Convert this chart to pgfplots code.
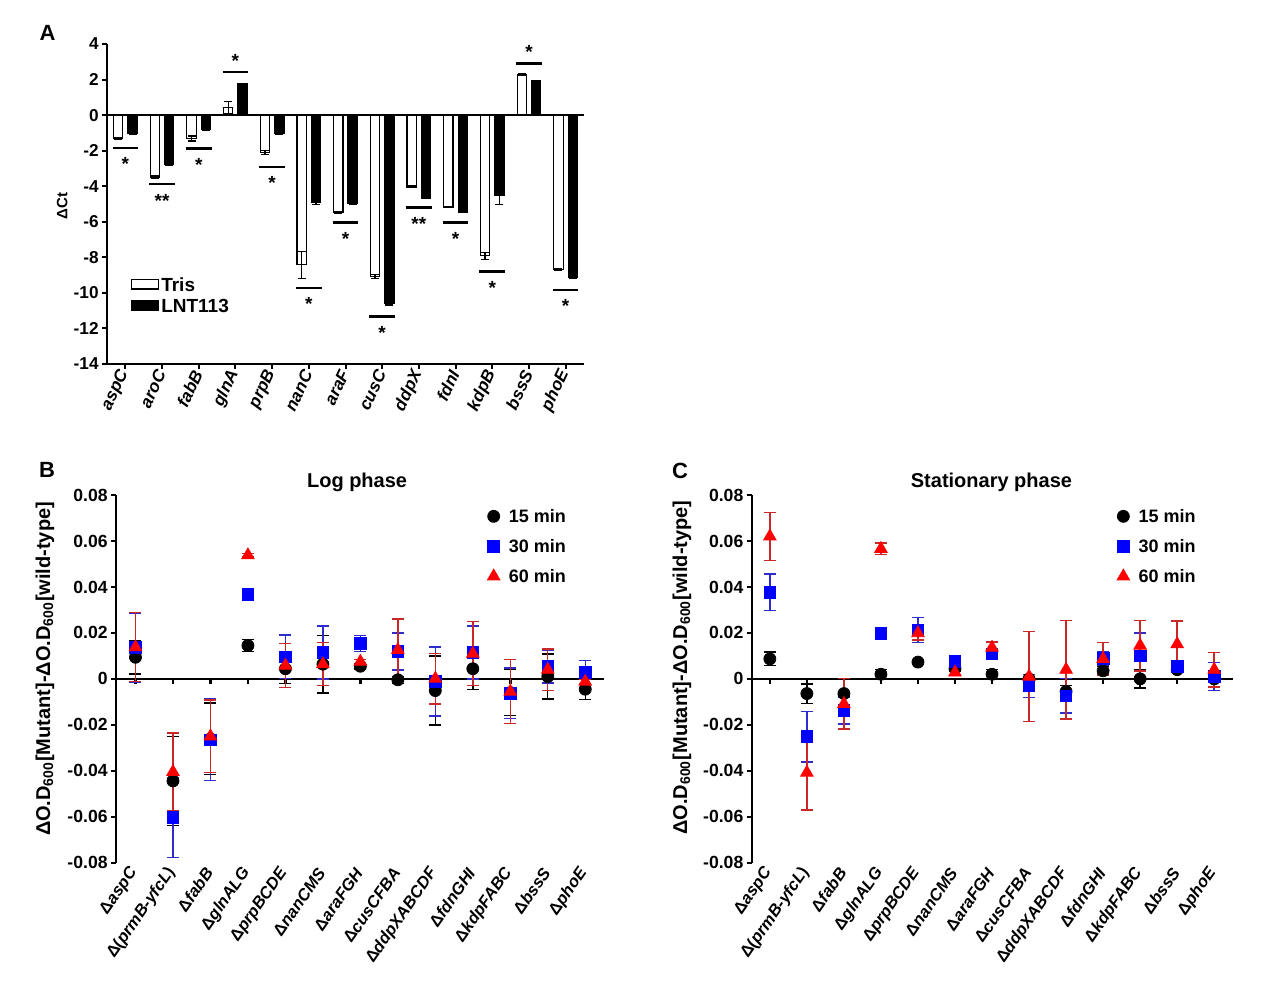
\documentclass[border=0pt]{standalone}
\usepackage{fontspec}
\setmainfont{Liberation Sans}
\usepackage{pgfplots}
\usepackage{pgfplotstable}
\pgfplotsset{compat=1.18}

\definecolor{mkblue}{RGB}{0,0,255}
\definecolor{mkred}{RGB}{255,0,0}
\definecolor{ebblue}{RGB}{45,45,205}
\definecolor{ebred}{RGB}{200,40,40}

% Delta Ct (mean, sd) per gene
\pgfplotstableread{
x tris etris lnt elnt
0  -1.32 0.05  -1.03 0.05
1  -3.48 0.06  -2.80 0.05
2  -1.32 0.14  -0.81 0.05
3   0.43 0.33   1.75 0.05
4  -2.10 0.12  -1.03 0.04
5  -8.42 0.77  -4.92 0.10
6  -5.49 0.05  -4.98 0.05
7  -9.08 0.10 -10.58 0.10
8  -4.04 0.05  -4.66 0.04
9  -5.17 0.04  -5.45 0.04
10 -7.91 0.19  -4.49 0.56
11  2.26 0.05   1.92 0.03
12 -8.67 0.05  -9.12 0.05
}\ctdata

% Log phase: 15, 30, 60 min (mean, sd)
\pgfplotstableread{
x a ea b eb c ec
0   0.0094 0.0072  0.0136 0.0150  0.0138 0.0150
1  -0.0444 0.0194 -0.0603 0.0174 -0.0405 0.0170
2  -0.0261 0.0156 -0.0265 0.0178 -0.0250 0.0158
3   0.0145 0.0025  0.0368 0.0008  0.0538 0.0008
4   0.0044 0.0065  0.0096 0.0095  0.0058 0.0095
5   0.0064 0.0125  0.0115 0.0115  0.0064 0.0094
6   0.0055 0.0012  0.0154 0.0035  0.0075 0.0010
7  -0.0004 0.0015  0.0119 0.0080  0.0126 0.0134
8  -0.0051 0.0150 -0.0012 0.0150  0.0001 0.0110
9   0.0044 0.0090  0.0115 0.0115  0.0110 0.0140
10 -0.0060 0.0100 -0.0062 0.0110 -0.0055 0.0140
11  0.0010 0.0098  0.0054 0.0072  0.0040 0.0090
12 -0.0045 0.0045  0.0029 0.0050 -0.0012 0.0010
}\logdata

% Stationary phase: 15, 30, 60 min (mean, sd)
\pgfplotstableread{
x a ea b eb c ec
0   0.0087 0.0030  0.0377 0.0080  0.0620 0.0104
1  -0.0064 0.0042 -0.0251 0.0110 -0.0408 0.0163
2  -0.0064 0.0010 -0.0138 0.0058 -0.0109 0.0110
3   0.0020 0.0020  0.0199 0.0008  0.0566 0.0025
4   0.0073 0.0010  0.0213 0.0055  0.0199 0.0030
5   0.0044 0.0010  0.0075 0.0010  0.0028 0.0010
6   0.0020 0.0020  0.0109 0.0010  0.0136 0.0024
7   0.0000 0.0020 -0.0030 0.0050  0.0010 0.0195
8  -0.0055 0.0025 -0.0074 0.0075  0.0040 0.0215
9   0.0035 0.0020  0.0090 0.0030  0.0087 0.0070
10  0.0000 0.0040  0.0100 0.0100  0.0145 0.0110
11  0.0040 0.0010  0.0054 0.0010  0.0151 0.0100
12  0.0000 0.0010  0.0010 0.0060  0.0040 0.0075
}\statdata

\newcommand\fs[1]{\fontsize{#1}{#1}\selectfont\bfseries}

% significance bar below (or above) a pair of bars
\newcommand\sigdown[3]{%
  \draw[line width=1.2pt] (axis cs:#1,#2) ++(-6.4pt,0pt) -- ++(12.8pt,0pt);
  \node[anchor=north, inner sep=0pt, yshift=-4.7pt, font=\fs{9.5}] at (axis cs:#1,#2) {#3};}
\newcommand\sigup[3]{%
  \draw[line width=1.2pt] (axis cs:#1,#2) ++(-6.4pt,0pt) -- ++(12.8pt,0pt);
  \node[anchor=north, inner sep=0pt, yshift=9pt, font=\fs{9.5}] at (axis cs:#1,#2) {#3};}

\pgfplotsset{
  every axis title shift=0pt,
  barlegwhite/.style={legend image code/.code={\draw[##1,/tikz/.cd] (0pt,-2.3pt) rectangle (13.5pt,2.3pt);}},
  barlegblack/.style={legend image code/.code={\draw[##1,/tikz/.cd] (0pt,-2.5pt) rectangle (13.5pt,2.5pt);}},
  markleg/.style={legend image code/.code={\draw[mark repeat=2,mark phase=2,##1] plot coordinates {(0pt,0pt) (3pt,0pt) (6pt,0pt)};}},
  odaxis/.style={
    scale only axis, height=183.85pt, clip=false,
    ymin=-0.08, ymax=0.08, xmax=12.5,
    axis y line*=left, axis x line*=bottom,
    x axis line style={draw=none},
    y axis line style={line width=1.1pt},
    scaled y ticks=false,
    ytick={-0.08,-0.06,-0.04,-0.02,0,0.02,0.04,0.06,0.08},
    yticklabels={-0.08,-0.06,-0.04,-0.02,0,0.02,0.04,0.06,0.08},
    xtick={0,1,2,3,4,5,6,7,8,9,10,11,12},
    xticklabels={Δ\textit{aspC}, Δ(\textit{prmB-yfcL}), Δ\textit{fabB}, Δ\textit{glnALG},
      Δ\textit{prpBCDE}, Δ\textit{nanCMS}, Δ\textit{araFGH}, Δ\textit{cusCFBA},
      Δ\textit{ddpXABCDF}, Δ\textit{fdnGHI}, Δ\textit{kdpFABC}, Δ\textit{bssS}, Δ\textit{phoE}},
    xtick style={draw=none},
    ytick style={line width=1.1pt, black},
    tick align=outside, major tick length=2.5pt,
    yticklabel style={font=\fs{8.8}, inner sep=1.5pt},
    xticklabel style={font=\fs{8.3}, rotate=55, anchor=east, inner sep=1pt},
    ylabel={ΔO.D\textsubscript{600}[Mutant]-ΔO.D\textsubscript{600}[wild-type]},
    ylabel style={font=\fs{10}, anchor=center},
    title style={font=\fs{10}, anchor=base, yshift=4pt},
    legend style={draw=none, fill=none, inner sep=0pt, font=\fs{9},
      nodes={inner sep=1pt, text height=6.5pt, text depth=0pt}, row sep=6.5pt,
      /tikz/every odd column/.append style={column sep=3.5pt}},
    legend cell align=left,
  },
  p15/.style={markleg, only marks, mark=*, mark size=3pt, black, mark options={fill=black, draw=black},
    error bars/.cd, y dir=both, y explicit,
    error bar style={line width=0.7pt, black},
    error mark options={rotate=90, mark size=3pt, line width=0.7pt, black}},
  p30/.style={markleg, only marks, mark=square*, mark size=2.9pt, mkblue, mark options={fill=mkblue, draw=mkblue},
    error bars/.cd, y dir=both, y explicit,
    error bar style={line width=0.7pt, ebblue},
    error mark options={rotate=90, mark size=3pt, line width=0.7pt, ebblue}},
  p60/.style={markleg, only marks, mark=triangle*, mark size=3.6pt, mkred, mark options={fill=mkred, draw=mkred},
    error bars/.cd, y dir=both, y explicit,
    error bar style={line width=0.7pt, ebred},
    error mark options={rotate=90, mark size=3pt, line width=0.7pt, ebred}},
  ctbar/.style={ybar, bar width=4.65pt, bar shift=0pt, draw=black, line width=0.6pt,
    error bars/.cd, y dir=both, y explicit,
    error bar style={line width=0.6pt, black},
    error mark options={rotate=90, mark size=2pt, line width=0.6pt, black}},
}

\begin{document}
\begin{tikzpicture}
\useasboundingbox (0,0) rectangle (632pt,490.5pt);

% ---------------- A: Delta Ct bars ----------------
\begin{axis}[
  at={(53.5pt,308.5pt)}, anchor=south west,
  scale only axis, width=238.5pt, height=160pt, clip=false,
  xmin=-0.5, xmax=12.5, ymin=-14, ymax=4,
  axis x line*=bottom, axis y line*=left,
  axis line style={line width=1pt},
  tick style={line width=1pt, black},
  tick align=outside, major tick length=2.5pt,
  ytick={-14,-12,-10,-8,-6,-4,-2,0,2,4},
  yticklabels={-14,-12,-10,-8,-6,-4,-2,0,2,4},
  xtick={0,1,2,3,4,5,6,7,8,9,10,11,12},
  xticklabels={aspC,aroC,fabB,glnA,prpB,nanC,araF,cusC,ddpX,fdnI,kdpB,bssS,phoE},
  yticklabel style={font=\fs{8.6}, inner sep=1.5pt},
  xticklabel style={font=\fs{8.6}\itshape, rotate=65, anchor=east, inner sep=1pt},
  ylabel={ΔCt},
  ylabel style={font=\fs{7.5}, at={(axis description cs:-0.094,0.494)}, anchor=center},
  legend style={at={(axis cs:0.2,-9.0)}, anchor=north west, xshift=-1pt,
    draw=none, fill=none, inner sep=0pt, font=\fs{9.5},
    nodes={inner sep=1pt, text height=6.8pt, text depth=0pt}, row sep=1.7pt},
  legend cell align=left,
]
\addplot[barlegwhite, fill=white, ctbar]
  table[x expr=\thisrow{x}-0.196, y=tris, y error=etris] {\ctdata};
\addlegendentry{Tris}
\addplot[barlegblack, fill=black, ctbar]
  table[x expr=\thisrow{x}+0.196, y=lnt, y error=elnt] {\ctdata};
\addlegendentry{LNT113}
% zero line
\draw[line width=1.2pt] (axis cs:-0.5,0) -- (axis cs:12.5,0);
% significance
\sigdown{0}{-1.84}{*}
\sigdown{1}{-3.89}{**}
\sigdown{2}{-1.88}{*}
\sigup{3}{2.42}{*}
\sigdown{4}{-2.91}{*}
\sigdown{5}{-9.72}{*}
\sigdown{6}{-6.05}{*}
\sigdown{7}{-11.33}{*}
\sigdown{8}{-5.20}{**}
\sigdown{9}{-6.05}{*}
\sigdown{10}{-8.80}{*}
\sigup{11}{2.91}{*}
\sigdown{12}{-9.83}{*}
\end{axis}

% ---------------- B: log phase ----------------
\begin{axis}[odaxis,
  at={(58pt,59.15pt)}, anchor=south west,
  width=244pt, xmin=-0.52,
  ylabel style={at={(axis description cs:-0.1455,0.527)}},
  title={Log phase}, title style={at={(axis description cs:0.494,1)}},
  legend style={at={(axis cs:9.54,0.0746)}, anchor=north west, xshift=-3pt},
]
\draw[line width=1.2pt] (axis cs:-0.52,0) -- (axis cs:12.5,0);
\pgfplotsinvokeforeach{0,...,12}{\draw[line width=1.2pt] (axis cs:#1,0) -- ++(0pt,-2.8pt);}
\addplot[p15] table[x=x, y=a, y error=ea] {\logdata};
\addlegendentry{15 min}
\addplot[p30] table[x=x, y=b, y error=eb] {\logdata};
\addlegendentry{30 min}
\addplot[p60] table[x=x, y=c, y error=ec] {\logdata};
\addlegendentry{60 min}
\end{axis}

% ---------------- C: stationary phase ----------------
\begin{axis}[odaxis,
  at={(375.85pt,59.15pt)}, anchor=south west,
  width=240.5pt, xmin=-0.49,
  ylabel style={at={(axis description cs:-0.145,0.531)}},
  title={Stationary phase}, title style={at={(axis description cs:0.4985,1)}},
  legend style={at={(axis cs:9.53,0.0746)}, anchor=north west, xshift=-3pt},
]
\draw[line width=1.2pt] (axis cs:-0.49,0) -- (axis cs:12.5,0);
\pgfplotsinvokeforeach{0,...,12}{\draw[line width=1.2pt] (axis cs:#1,0) -- ++(0pt,-2.8pt);}
\addplot[p15] table[x=x, y=a, y error=ea] {\statdata};
\addlegendentry{15 min}
\addplot[p30] table[x=x, y=b, y error=eb] {\statdata};
\addlegendentry{30 min}
\addplot[p60] table[x=x, y=c, y error=ec] {\statdata};
\addlegendentry{60 min}
\end{axis}

% panel letters
\node[font=\fs{11}] at (23.75pt,474pt) {A};
\node[font=\fs{11}] at (23.5pt,255.75pt) {B};
\node[font=\fs{11}] at (340pt,255.25pt) {C};
\end{tikzpicture}
\end{document}
